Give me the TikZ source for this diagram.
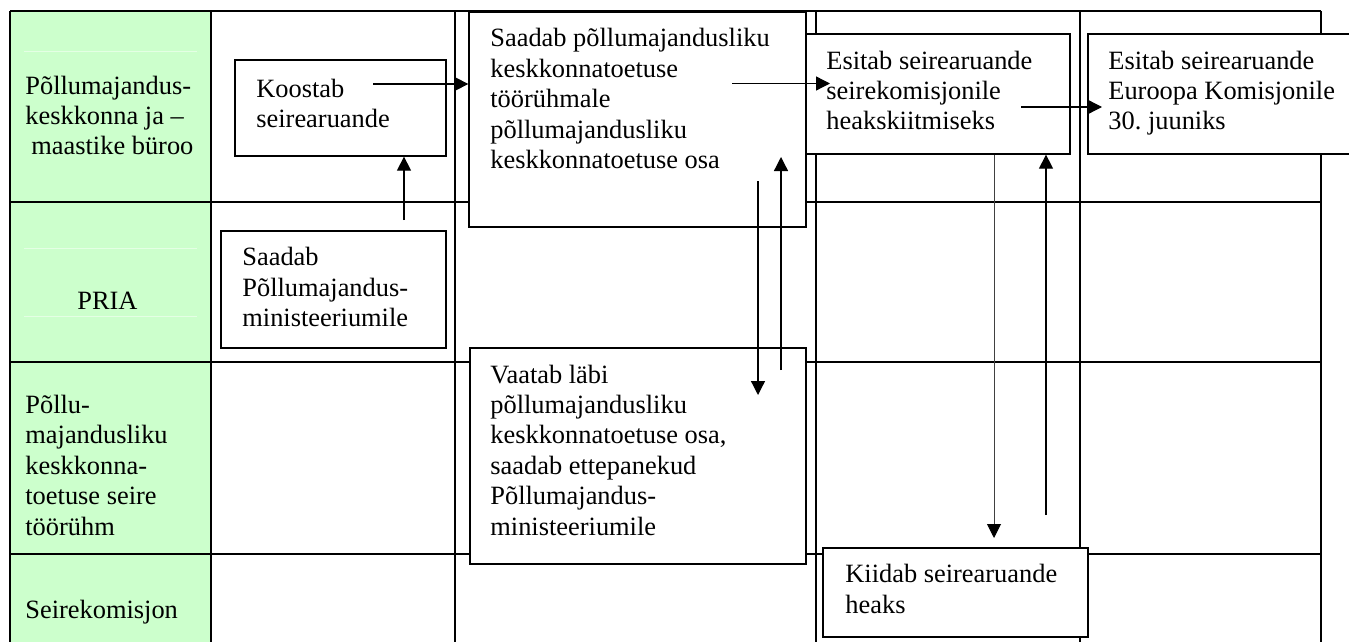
\documentclass[tikz,border=0pt]{standalone}
\usepackage{fontspec}
\setmainfont{Liberation Serif}
\usetikzlibrary{arrows.meta,fit}
\definecolor{lanegreen}{HTML}{CCFFCC}
\definecolor{faintline}{HTML}{E4FFE4}
\begin{document}
\begin{tikzpicture}[x=0.5pt,y=-0.5pt,
  tbl/.style={line width=0.75pt},
  box/.style={draw, line width=0.65pt, fill=white, inner sep=0pt, rectangle},
  txt/.style={inner sep=0pt, anchor=base west, align=left, font=\fontsize{13.2pt}{15.2pt}\selectfont\frenchspacing},
  arr/.style={line width=0.65pt, -{Triangle[length=7pt,width=7pt]}},
  thinarr/.style={line width=0.45pt, black!75, -{Triangle[length=7pt,width=7pt,color=black]}}
]
\useasboundingbox (0,0) rectangle (1349,642);
\clip (0,0) rectangle (1349,642);
% lane column
\fill[lanegreen] (10,11) rectangle (211,642);
\draw[faintline, line width=0.5pt] (24,52) -- (197,52);
\draw[faintline, line width=0.5pt] (24,248) -- (197,248);
\draw[faintline, line width=0.5pt] (24,316) -- (197,316);
% table grid
\draw[tbl] (10,11) -- (1321,11);
\foreach \yy in {202,362,554} \draw[tbl] (10,\yy) -- (1321,\yy);
\foreach \xx in {10,211,455,816,1080,1321} \draw[tbl] (\xx,11) -- (\xx,642);
% lane labels (anchor = baseline of the last line)
\node[txt] (l1) at (25,155) {Põllumajandus-\\keskkonna ja –\\\hspace*{3pt}maastike büroo};
\node[txt] (l2) at (77,309) {PRIA};
\node[txt] (l3) at (25,535) {Põllu-\\majandusliku\\keskkonna-\\toetuse seire\\töörühm};
\node[txt] (l4) at (25,618) {Seirekomisjon};
% boxes
\node[box, fit={(235,60) (446,156)}] (K) {};
\node[box, fit={(221,231) (446,348)}] (P) {};
\node[box, fit={(469,12) (806,227)}] (S) {};
\node[box, fit={(470,348) (806,564)}] (V) {};
\node[box, fit={(806,34) (1070,154)}] (E) {};
\node[box, fit={(1088,34) (1360,154)}] (U) {};
\node[box, fit={(823,548) (1088,637)}] (KI) {};
% box texts
\node[txt] (Kt) at (256,127.7) {Koostab\\seirearuande};
\node[txt] (Pt) at (242,326.7) {Saadab\\Põllumajandus-\\ministeeriumile};
\node[txt] (St) at (490,168.5) {Saadab põllumajandusliku\\keskkonnatoetuse\\töörühmale\\põllumajandusliku\\keskkonnatoetuse osa};
\node[txt] (Vt) at (490,535) {Vaatab läbi\\põllumajandusliku\\keskkonnatoetuse osa,\\saadab ettepanekud\\Põllumajandus-\\ministeeriumile};
\node[txt] (Et) at (826,130) {Esitab seirearuande\\seirekomisjonile\\heakskiitmiseks};
\node[txt] (Ut) at (1108,130) {Esitab seirearuande\\Euroopa Komisjonile\\30. juuniks};
\node[txt] (KIt) at (845,613) {Kiidab seirearuande\\heaks};
% connector end points
\coordinate (a1) at (373,84);
\coordinate (a2) at (404,220);
\coordinate (a3s) at (732,83.5);
\coordinate (a3e) at (830,83.5);
\coordinate (a4s) at (1021,107);
\coordinate (a4e) at (1102,107);
\coordinate (a5s) at (758,181);
\coordinate (a5e) at (758,395);
\coordinate (a6s) at (781,370);
\coordinate (a6e) at (781,157);
\coordinate (a7e) at (994,538);
\coordinate (a8s) at (1046,515);
% connectors
\draw[arr] (a1) -- (a1 -| S.west);
\draw[arr] (a2) -- (a2 |- K.south);
\draw[arr] (a3s) -- (a3e);
\draw[arr] (a4s) -- (a4e);
\draw[arr] (a5s) -- (a5e);
\draw[arr] (a6s) -- (a6e);
\draw[thinarr] (a7e |- E.south) -- (a7e);
\draw[arr] (a8s) -- (a8s |- E.south);
\end{tikzpicture}
\end{document}
